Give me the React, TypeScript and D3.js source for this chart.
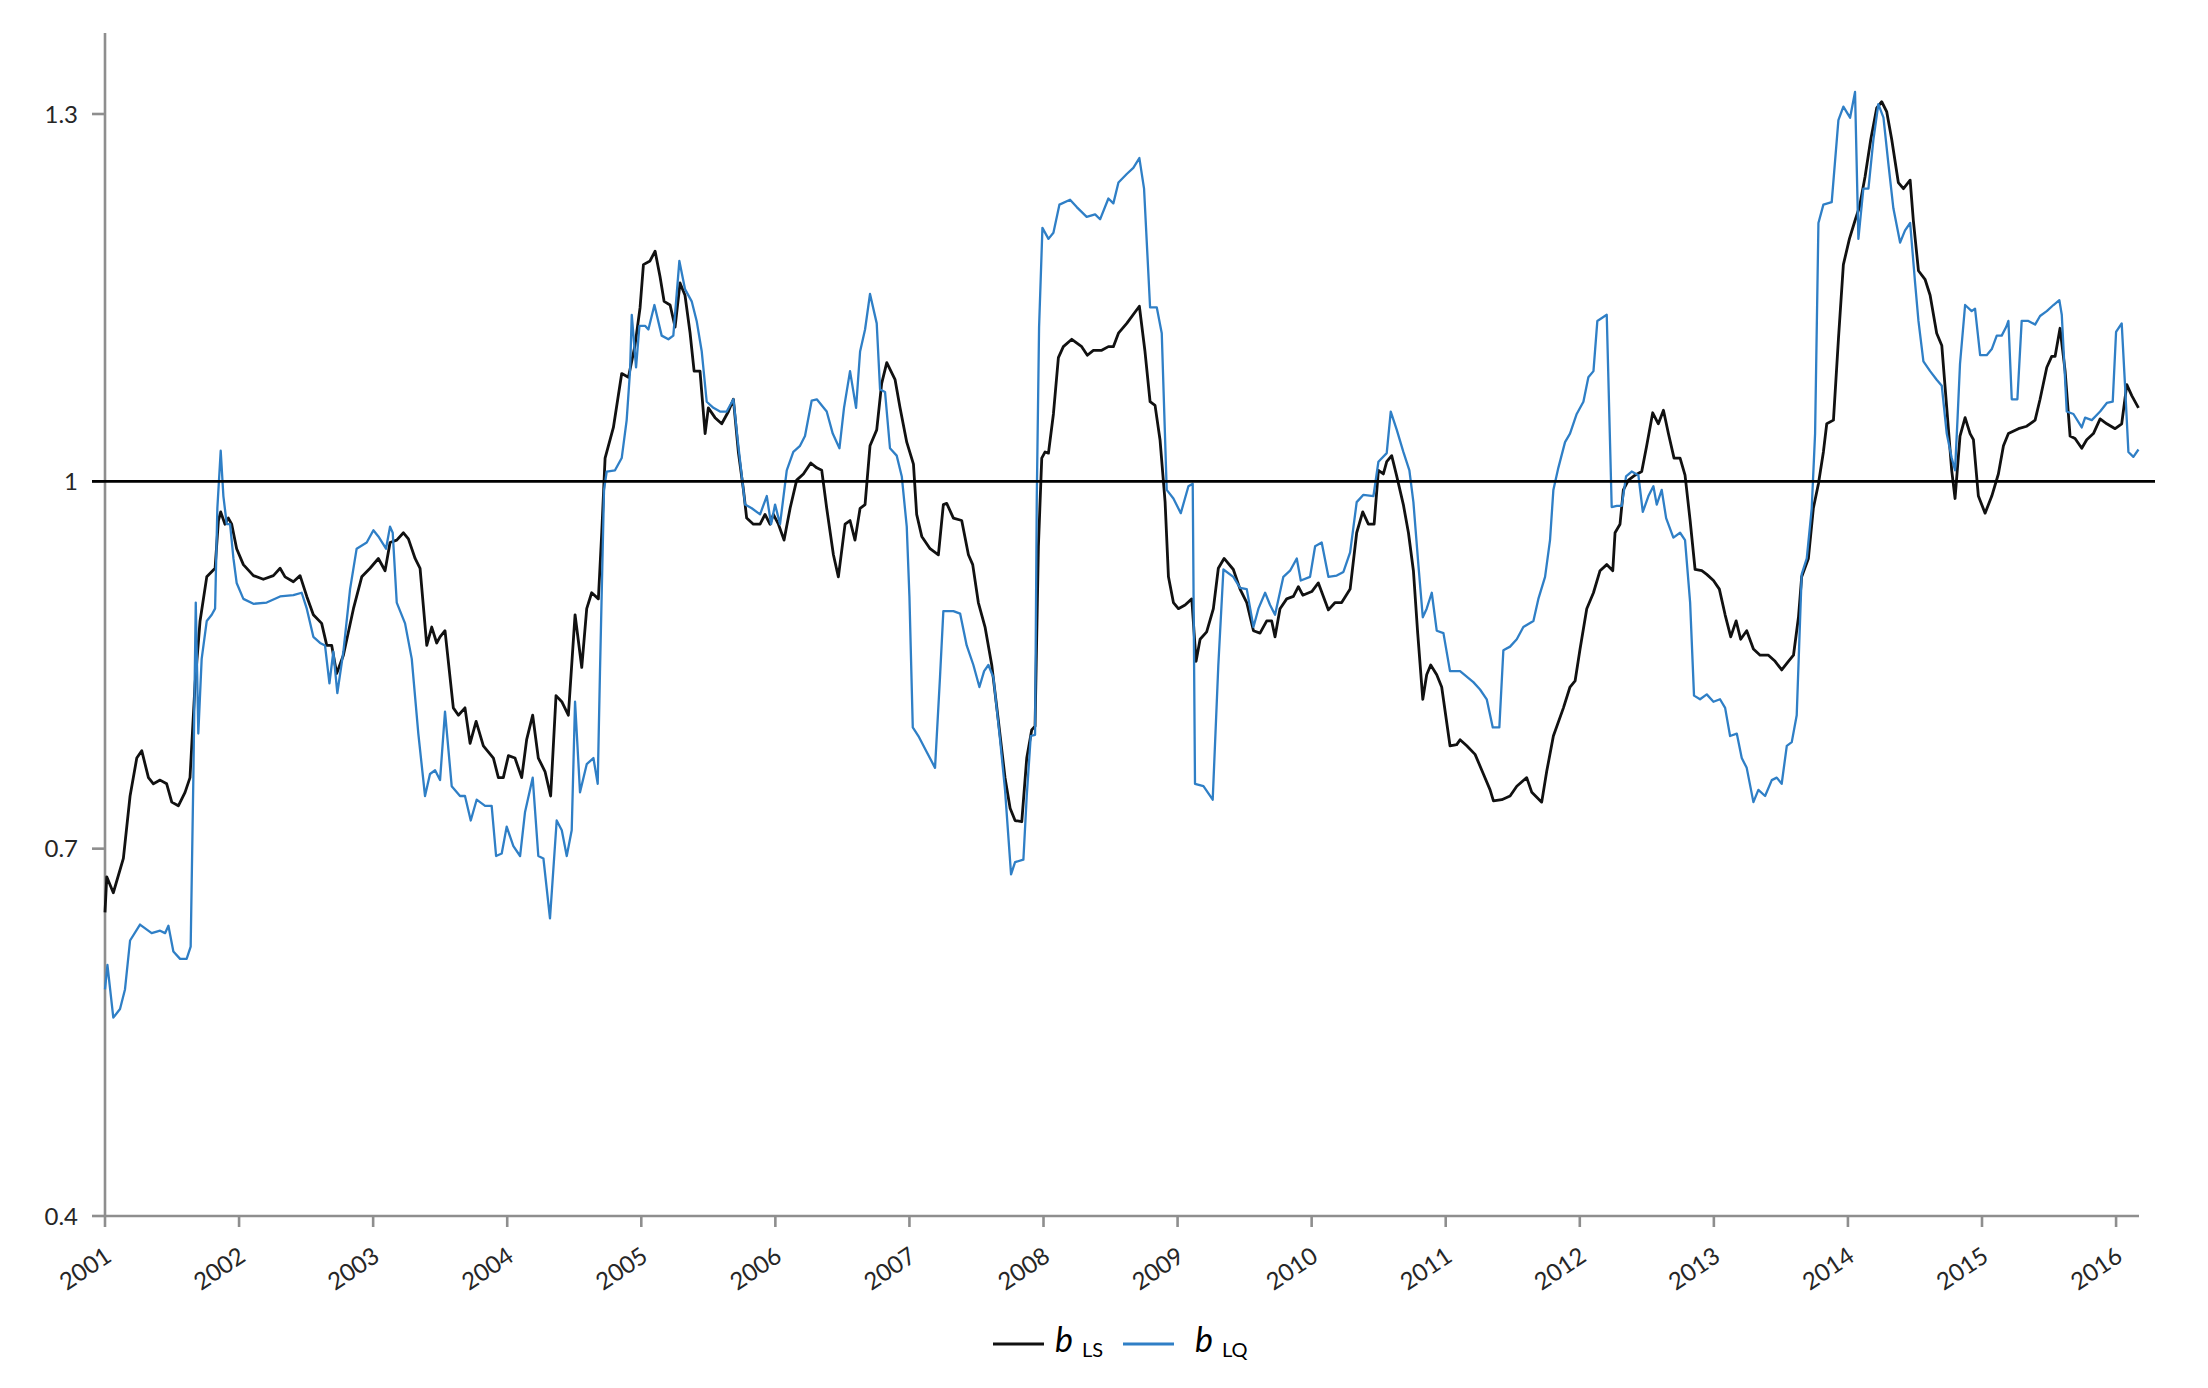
import React from 'react';
import * as d3 from 'd3';

// b_LS series: [decimal year, value]
const bLS: [number, number][] = [
  [2001.000, 0.648], [2001.013, 0.677], [2001.062, 0.664], [2001.137, 0.692], [2001.187, 0.743],
  [2001.237, 0.774], [2001.274, 0.780], [2001.324, 0.758], [2001.361, 0.753], [2001.411, 0.756],
  [2001.460, 0.753], [2001.498, 0.738], [2001.547, 0.735], [2001.597, 0.746], [2001.634, 0.758],
  [2001.672, 0.835], [2001.709, 0.886], [2001.759, 0.922], [2001.821, 0.929], [2001.846, 0.968],
  [2001.863, 0.975], [2001.895, 0.965], [2001.920, 0.970], [2001.945, 0.965], [2001.982, 0.945],
  [2002.032, 0.932], [2002.107, 0.923], [2002.181, 0.920], [2002.256, 0.923], [2002.306, 0.929],
  [2002.343, 0.922], [2002.405, 0.918], [2002.455, 0.923], [2002.505, 0.906], [2002.554, 0.891],
  [2002.616, 0.884], [2002.654, 0.866], [2002.691, 0.866], [2002.728, 0.843], [2002.778, 0.858],
  [2002.853, 0.896], [2002.915, 0.922], [2002.977, 0.929], [2003.039, 0.937], [2003.089, 0.927],
  [2003.126, 0.950], [2003.176, 0.952], [2003.226, 0.958], [2003.263, 0.953], [2003.313, 0.937],
  [2003.350, 0.929], [2003.400, 0.866], [2003.437, 0.881], [2003.474, 0.868], [2003.499, 0.873],
  [2003.536, 0.878], [2003.598, 0.815], [2003.636, 0.809], [2003.685, 0.815], [2003.723, 0.786],
  [2003.768, 0.804], [2003.822, 0.784], [2003.897, 0.774], [2003.934, 0.758], [2003.971, 0.758],
  [2004.009, 0.776], [2004.058, 0.774], [2004.108, 0.758], [2004.145, 0.789], [2004.190, 0.809],
  [2004.232, 0.774], [2004.282, 0.763], [2004.324, 0.743], [2004.364, 0.825], [2004.407, 0.820],
  [2004.456, 0.809], [2004.506, 0.891], [2004.556, 0.848], [2004.593, 0.896], [2004.630, 0.909],
  [2004.680, 0.904], [2004.705, 0.958], [2004.730, 1.019], [2004.792, 1.044], [2004.854, 1.088],
  [2004.904, 1.085], [2004.953, 1.111], [2004.991, 1.142], [2005.016, 1.177], [2005.065, 1.180],
  [2005.103, 1.188], [2005.140, 1.167], [2005.170, 1.147], [2005.215, 1.144], [2005.252, 1.126],
  [2005.289, 1.162], [2005.326, 1.152], [2005.364, 1.121], [2005.394, 1.090], [2005.438, 1.090],
  [2005.476, 1.039], [2005.500, 1.060], [2005.550, 1.052], [2005.600, 1.047], [2005.650, 1.057],
  [2005.687, 1.067], [2005.724, 1.024], [2005.762, 0.993], [2005.786, 0.970], [2005.836, 0.965],
  [2005.886, 0.965], [2005.923, 0.973], [2005.960, 0.965], [2005.985, 0.973], [2006.023, 0.965],
  [2006.065, 0.952], [2006.110, 0.978], [2006.159, 1.001], [2006.209, 1.006], [2006.264, 1.015],
  [2006.309, 1.011], [2006.346, 1.009], [2006.383, 0.978], [2006.433, 0.940], [2006.470, 0.922],
  [2006.520, 0.965], [2006.557, 0.968], [2006.594, 0.952], [2006.632, 0.978], [2006.669, 0.981],
  [2006.706, 1.029], [2006.756, 1.042], [2006.793, 1.080], [2006.831, 1.097], [2006.893, 1.083],
  [2006.930, 1.060], [2006.980, 1.032], [2007.030, 1.014], [2007.054, 0.973], [2007.092, 0.955],
  [2007.154, 0.945], [2007.216, 0.940], [2007.253, 0.981], [2007.278, 0.982], [2007.328, 0.970],
  [2007.390, 0.968], [2007.440, 0.940], [2007.472, 0.932], [2007.514, 0.901], [2007.564, 0.881],
  [2007.614, 0.850], [2007.664, 0.804], [2007.713, 0.758], [2007.751, 0.733], [2007.788, 0.723],
  [2007.838, 0.722], [2007.875, 0.774], [2007.912, 0.797], [2007.937, 0.800], [2007.962, 0.947],
  [2007.987, 1.019], [2008.012, 1.024], [2008.037, 1.023], [2008.074, 1.055], [2008.111, 1.101],
  [2008.148, 1.110], [2008.211, 1.116], [2008.285, 1.110], [2008.327, 1.103], [2008.372, 1.107],
  [2008.434, 1.107], [2008.484, 1.110], [2008.521, 1.110], [2008.559, 1.121], [2008.621, 1.129],
  [2008.715, 1.143], [2008.757, 1.106], [2008.795, 1.065], [2008.832, 1.062], [2008.869, 1.034],
  [2008.907, 0.983], [2008.932, 0.922], [2008.969, 0.901], [2009.006, 0.896], [2009.056, 0.899],
  [2009.106, 0.904], [2009.138, 0.853], [2009.168, 0.871], [2009.217, 0.877], [2009.267, 0.896],
  [2009.304, 0.929], [2009.347, 0.937], [2009.416, 0.928], [2009.466, 0.912], [2009.516, 0.901],
  [2009.566, 0.878], [2009.615, 0.876], [2009.665, 0.886], [2009.702, 0.886], [2009.727, 0.873],
  [2009.764, 0.896], [2009.814, 0.904], [2009.864, 0.906], [2009.901, 0.914], [2009.934, 0.907],
  [2010.001, 0.910], [2010.050, 0.917], [2010.125, 0.895], [2010.175, 0.901], [2010.224, 0.901],
  [2010.287, 0.912], [2010.336, 0.958], [2010.381, 0.975], [2010.423, 0.965], [2010.466, 0.965],
  [2010.498, 1.009], [2010.535, 1.006], [2010.560, 1.016], [2010.597, 1.021], [2010.635, 1.004],
  [2010.684, 0.981], [2010.722, 0.958], [2010.759, 0.927], [2010.791, 0.876], [2010.829, 0.822],
  [2010.858, 0.842], [2010.888, 0.850], [2010.933, 0.842], [2010.970, 0.832], [2011.032, 0.784],
  [2011.082, 0.785], [2011.107, 0.789], [2011.157, 0.784], [2011.219, 0.777], [2011.281, 0.761],
  [2011.331, 0.748], [2011.356, 0.739], [2011.418, 0.740], [2011.480, 0.743], [2011.530, 0.751],
  [2011.604, 0.758], [2011.642, 0.746], [2011.716, 0.738], [2011.753, 0.763], [2011.803, 0.792],
  [2011.878, 0.815], [2011.927, 0.832], [2011.965, 0.837], [2012.002, 0.863], [2012.052, 0.896],
  [2012.102, 0.909], [2012.151, 0.927], [2012.201, 0.932], [2012.246, 0.927], [2012.263, 0.958],
  [2012.300, 0.965], [2012.325, 0.993], [2012.363, 1.001], [2012.412, 1.005], [2012.462, 1.008],
  [2012.499, 1.029], [2012.544, 1.056], [2012.586, 1.047], [2012.624, 1.058], [2012.661, 1.039],
  [2012.703, 1.019], [2012.748, 1.019], [2012.785, 1.005], [2012.823, 0.968], [2012.860, 0.928],
  [2012.910, 0.927], [2012.947, 0.924], [2012.997, 0.919], [2013.041, 0.912], [2013.084, 0.891],
  [2013.126, 0.873], [2013.166, 0.886], [2013.200, 0.871], [2013.245, 0.878], [2013.295, 0.863],
  [2013.345, 0.858], [2013.407, 0.858], [2013.457, 0.853], [2013.506, 0.846], [2013.556, 0.853],
  [2013.594, 0.858], [2013.631, 0.889], [2013.655, 0.922], [2013.705, 0.937], [2013.742, 0.978],
  [2013.780, 0.998], [2013.817, 1.024], [2013.842, 1.047], [2013.892, 1.050], [2013.929, 1.116],
  [2013.966, 1.177], [2014.011, 1.198], [2014.053, 1.213], [2014.086, 1.224], [2014.128, 1.249],
  [2014.170, 1.279], [2014.215, 1.305], [2014.252, 1.310], [2014.289, 1.302], [2014.327, 1.279],
  [2014.376, 1.244], [2014.414, 1.239], [2014.464, 1.246], [2014.488, 1.213], [2014.526, 1.172],
  [2014.575, 1.165], [2014.613, 1.152], [2014.662, 1.121], [2014.700, 1.111], [2014.737, 1.060],
  [2014.774, 1.009], [2014.799, 0.986], [2014.836, 1.037], [2014.874, 1.052], [2014.911, 1.039],
  [2014.936, 1.034], [2014.973, 0.988], [2015.023, 0.974], [2015.073, 0.988], [2015.122, 1.006],
  [2015.160, 1.029], [2015.197, 1.039], [2015.272, 1.043], [2015.334, 1.045], [2015.396, 1.050],
  [2015.433, 1.067], [2015.483, 1.093], [2015.520, 1.102], [2015.545, 1.102], [2015.582, 1.125],
  [2015.620, 1.090], [2015.657, 1.037], [2015.694, 1.035], [2015.744, 1.027], [2015.781, 1.034],
  [2015.831, 1.039], [2015.881, 1.051], [2015.931, 1.047], [2015.993, 1.043], [2016.042, 1.047],
  [2016.080, 1.079], [2016.117, 1.070], [2016.167, 1.060],
];

// b_LQ series: [decimal year, value]
const bLQ: [number, number][] = [
  [2001.000, 0.585], [2001.018, 0.605], [2001.062, 0.562], [2001.112, 0.569], [2001.149, 0.585],
  [2001.187, 0.625], [2001.261, 0.638], [2001.348, 0.631], [2001.411, 0.633], [2001.448, 0.631],
  [2001.473, 0.637], [2001.510, 0.616], [2001.560, 0.610], [2001.609, 0.610], [2001.639, 0.620],
  [2001.659, 0.758], [2001.677, 0.901], [2001.696, 0.794], [2001.721, 0.855], [2001.759, 0.886],
  [2001.796, 0.891], [2001.821, 0.896], [2001.838, 0.978], [2001.863, 1.025], [2001.883, 0.988],
  [2001.908, 0.965], [2001.933, 0.965], [2001.958, 0.937], [2001.982, 0.917], [2002.032, 0.904],
  [2002.107, 0.900], [2002.206, 0.901], [2002.306, 0.906], [2002.405, 0.907], [2002.467, 0.909],
  [2002.505, 0.896], [2002.554, 0.873], [2002.604, 0.868], [2002.641, 0.866], [2002.674, 0.835],
  [2002.703, 0.861], [2002.733, 0.827], [2002.778, 0.861], [2002.828, 0.912], [2002.877, 0.945],
  [2002.952, 0.950], [2003.002, 0.960], [2003.039, 0.955], [2003.096, 0.945], [2003.126, 0.963],
  [2003.146, 0.958], [2003.176, 0.901], [2003.238, 0.884], [2003.288, 0.855], [2003.337, 0.794],
  [2003.387, 0.743], [2003.424, 0.761], [2003.462, 0.764], [2003.499, 0.756], [2003.536, 0.812],
  [2003.586, 0.751], [2003.648, 0.743], [2003.685, 0.743], [2003.728, 0.723], [2003.772, 0.740],
  [2003.835, 0.735], [2003.884, 0.735], [2003.917, 0.694], [2003.959, 0.696], [2003.996, 0.718],
  [2004.046, 0.702], [2004.096, 0.694], [2004.133, 0.730], [2004.190, 0.758], [2004.232, 0.694],
  [2004.270, 0.692], [2004.319, 0.643], [2004.369, 0.723], [2004.407, 0.715], [2004.444, 0.694],
  [2004.481, 0.715], [2004.506, 0.820], [2004.543, 0.746], [2004.593, 0.769], [2004.643, 0.774],
  [2004.675, 0.753], [2004.692, 0.845], [2004.722, 0.993], [2004.742, 1.008], [2004.804, 1.009],
  [2004.854, 1.019], [2004.891, 1.050], [2004.916, 1.090], [2004.929, 1.136], [2004.961, 1.093],
  [2004.986, 1.127], [2005.028, 1.127], [2005.053, 1.124], [2005.098, 1.144], [2005.152, 1.119],
  [2005.202, 1.116], [2005.239, 1.119], [2005.284, 1.180], [2005.326, 1.157], [2005.376, 1.147],
  [2005.413, 1.131], [2005.451, 1.106], [2005.488, 1.065], [2005.538, 1.060], [2005.587, 1.057],
  [2005.637, 1.057], [2005.687, 1.067], [2005.724, 1.029], [2005.774, 0.981], [2005.824, 0.978],
  [2005.886, 0.973], [2005.936, 0.988], [2005.968, 0.965], [2005.998, 0.981], [2006.035, 0.965],
  [2006.085, 1.009], [2006.134, 1.024], [2006.184, 1.029], [2006.221, 1.037], [2006.271, 1.066],
  [2006.309, 1.067], [2006.383, 1.057], [2006.428, 1.039], [2006.478, 1.027], [2006.512, 1.060],
  [2006.557, 1.090], [2006.602, 1.060], [2006.632, 1.106], [2006.669, 1.124], [2006.706, 1.153],
  [2006.756, 1.129], [2006.781, 1.075], [2006.818, 1.073], [2006.855, 1.027], [2006.905, 1.021],
  [2006.943, 1.004], [2006.980, 0.963], [2007.000, 0.906], [2007.025, 0.799], [2007.067, 0.792],
  [2007.129, 0.779], [2007.191, 0.766], [2007.228, 0.840], [2007.253, 0.894], [2007.328, 0.894],
  [2007.378, 0.892], [2007.427, 0.866], [2007.477, 0.850], [2007.522, 0.832], [2007.557, 0.845],
  [2007.589, 0.850], [2007.626, 0.840], [2007.676, 0.789], [2007.713, 0.748], [2007.758, 0.679],
  [2007.788, 0.689], [2007.850, 0.691], [2007.875, 0.743], [2007.905, 0.792], [2007.937, 0.793],
  [2007.950, 0.988], [2007.967, 1.126], [2007.992, 1.207], [2008.037, 1.198], [2008.074, 1.203],
  [2008.119, 1.226], [2008.198, 1.230], [2008.248, 1.224], [2008.322, 1.216], [2008.385, 1.218],
  [2008.422, 1.214], [2008.484, 1.231], [2008.521, 1.227], [2008.559, 1.244], [2008.621, 1.251],
  [2008.670, 1.256], [2008.715, 1.264], [2008.750, 1.239], [2008.795, 1.142], [2008.845, 1.142],
  [2008.882, 1.121], [2008.919, 0.993], [2008.969, 0.986], [2009.024, 0.974], [2009.081, 0.996],
  [2009.113, 0.998], [2009.130, 0.753], [2009.193, 0.751], [2009.262, 0.740], [2009.304, 0.850],
  [2009.342, 0.928], [2009.416, 0.922], [2009.466, 0.913], [2009.516, 0.912], [2009.566, 0.881],
  [2009.603, 0.896], [2009.653, 0.909], [2009.690, 0.899], [2009.727, 0.891], [2009.789, 0.922],
  [2009.839, 0.927], [2009.889, 0.937], [2009.919, 0.919], [2009.988, 0.922], [2010.026, 0.947],
  [2010.075, 0.950], [2010.125, 0.922], [2010.187, 0.923], [2010.237, 0.926], [2010.287, 0.942],
  [2010.336, 0.983], [2010.386, 0.989], [2010.461, 0.988], [2010.498, 1.016], [2010.560, 1.023],
  [2010.590, 1.057], [2010.635, 1.042], [2010.684, 1.024], [2010.729, 1.009], [2010.759, 0.983],
  [2010.796, 0.932], [2010.829, 0.889], [2010.858, 0.896], [2010.896, 0.909], [2010.933, 0.878],
  [2010.983, 0.876], [2011.032, 0.845], [2011.082, 0.845], [2011.107, 0.845], [2011.206, 0.836],
  [2011.256, 0.830], [2011.306, 0.822], [2011.351, 0.799], [2011.400, 0.799], [2011.430, 0.862],
  [2011.480, 0.865], [2011.530, 0.871], [2011.579, 0.881], [2011.654, 0.886], [2011.691, 0.904],
  [2011.741, 0.922], [2011.778, 0.952], [2011.803, 0.993], [2011.840, 1.011], [2011.890, 1.032],
  [2011.927, 1.039], [2011.977, 1.055], [2012.027, 1.065], [2012.064, 1.085], [2012.102, 1.090],
  [2012.131, 1.131], [2012.201, 1.136], [2012.238, 0.979], [2012.276, 0.980], [2012.313, 0.980],
  [2012.345, 1.004], [2012.387, 1.008], [2012.437, 1.005], [2012.470, 0.975], [2012.512, 0.988],
  [2012.549, 0.996], [2012.574, 0.981], [2012.611, 0.993], [2012.644, 0.970], [2012.698, 0.954],
  [2012.748, 0.958], [2012.785, 0.952], [2012.823, 0.901], [2012.852, 0.825], [2012.897, 0.822],
  [2012.947, 0.826], [2012.997, 0.820], [2013.046, 0.822], [2013.084, 0.815], [2013.121, 0.792],
  [2013.171, 0.794], [2013.208, 0.774], [2013.245, 0.766], [2013.295, 0.738], [2013.332, 0.748],
  [2013.382, 0.743], [2013.432, 0.756], [2013.469, 0.758], [2013.506, 0.753], [2013.544, 0.784],
  [2013.581, 0.787], [2013.618, 0.809], [2013.655, 0.924], [2013.693, 0.937], [2013.730, 0.978],
  [2013.755, 1.039], [2013.780, 1.211], [2013.817, 1.226], [2013.879, 1.228], [2013.929, 1.295],
  [2013.966, 1.306], [2014.016, 1.297], [2014.053, 1.318], [2014.078, 1.198], [2014.115, 1.239],
  [2014.153, 1.239], [2014.190, 1.279], [2014.227, 1.308], [2014.265, 1.297], [2014.302, 1.259],
  [2014.339, 1.223], [2014.389, 1.195], [2014.426, 1.205], [2014.464, 1.211], [2014.501, 1.162],
  [2014.526, 1.131], [2014.563, 1.098], [2014.613, 1.090], [2014.662, 1.083], [2014.700, 1.078],
  [2014.737, 1.039], [2014.774, 1.019], [2014.799, 1.009], [2014.817, 1.050], [2014.836, 1.096],
  [2014.874, 1.144], [2014.923, 1.139], [2014.948, 1.141], [2014.986, 1.103], [2015.035, 1.103],
  [2015.073, 1.108], [2015.110, 1.119], [2015.147, 1.119], [2015.180, 1.126], [2015.197, 1.131],
  [2015.222, 1.067], [2015.264, 1.067], [2015.296, 1.131], [2015.346, 1.131], [2015.396, 1.128],
  [2015.433, 1.135], [2015.483, 1.139], [2015.533, 1.144], [2015.577, 1.148], [2015.595, 1.136],
  [2015.632, 1.057], [2015.682, 1.055], [2015.744, 1.044], [2015.769, 1.052], [2015.819, 1.050],
  [2015.881, 1.057], [2015.931, 1.064], [2015.975, 1.065], [2016.000, 1.122], [2016.042, 1.129],
  [2016.067, 1.078], [2016.092, 1.024], [2016.129, 1.020], [2016.167, 1.026],
];

const yTicks = [0.4, 0.7, 1, 1.3];
const xTickYears = d3.range(2001, 2017);
const referenceLevel = 1;
const legendItems = [
  { key: 'LS', color: '#111111' },
  { key: 'LQ', color: '#2F7FC6' },
];

export default function App() {
  const W = 2208;
  const H = 1388;
  const left = 105;
  const right = 2139;
  const x = d3.scaleLinear().domain([2001, 2016.171]).range([left, right]);
  const y = d3.scaleLinear().domain([0.4, 1.3]).range([1216, 114]);
  const line = d3
    .line<[number, number]>()
    .x((d) => x(d[0]))
    .y((d) => y(d[1]));
  const axisColor = '#8e8e8e';
  const font = 'Lato, "Open Sans", sans-serif';
  const textColor = '#262626';
  const legendX = [993, 1123];
  const legendTextGap = [62, 72];

  return (
    <svg
      width={W}
      height={H}
      viewBox={`0 0 ${W} ${H}`}
      style={{ position: 'absolute', left: 0, top: 0, background: '#fff' }}
    >
      <rect x={0} y={0} width={W} height={H} fill="#fff" />
      {/* y axis */}
      <line x1={left} x2={left} y1={33} y2={y(0.4)} stroke={axisColor} strokeWidth={2.6} />
      {yTicks.map((t) => (
        <g key={t}>
          <line x1={left - 13} x2={left} y1={y(t)} y2={y(t)} stroke={axisColor} strokeWidth={2.6} />
          <text
            x={left - 27}
            y={y(t)}
            dy="0.36em"
            textAnchor="end"
            fontFamily={font}
            fontSize={24}
            fill={textColor}
          >
            {String(t)}
          </text>
        </g>
      ))}
      {/* x axis */}
      <line x1={left} x2={right} y1={y(0.4)} y2={y(0.4)} stroke={axisColor} strokeWidth={2.6} />
      {xTickYears.map((yr) => (
        <g key={yr}>
          <line x1={x(yr)} x2={x(yr)} y1={y(0.4)} y2={y(0.4) + 11} stroke={axisColor} strokeWidth={2.6} />
          <text
            transform={`translate(${x(yr) + 8},${y(0.4) + 44}) rotate(-34)`}
            textAnchor="end"
            fontFamily={font}
            fontSize={24}
            fill={textColor}
          >
            {yr}
          </text>
        </g>
      ))}
      {/* series */}
      <path d={line(bLS) || ''} fill="none" stroke={legendItems[0].color} strokeWidth={2.8} strokeLinejoin="round" />
      <path d={line(bLQ) || ''} fill="none" stroke={legendItems[1].color} strokeWidth={2.3} strokeLinejoin="round" />
      {/* reference line at 1 */}
      <line x1={left - 13} x2={2155} y1={y(referenceLevel)} y2={y(referenceLevel)} stroke="#000" strokeWidth={2.6} />
      {/* legend */}
      {legendItems.map((item, i) => {
        const lx = legendX[i];
        const tx = lx + legendTextGap[i];
        return (
          <g key={item.key}>
            <line x1={lx} x2={lx + 51} y1={1344} y2={1344} stroke={item.color} strokeWidth={3} />
            <text x={tx} y={1352} fontFamily={font} fontStyle="italic" fontSize={34} fill="#000">
              b
            </text>
            <text x={tx + 27} y={1357} fontFamily={font} fontSize={20} fill="#000">
              {item.key}
            </text>
          </g>
        );
      })}
    </svg>
  );
}
